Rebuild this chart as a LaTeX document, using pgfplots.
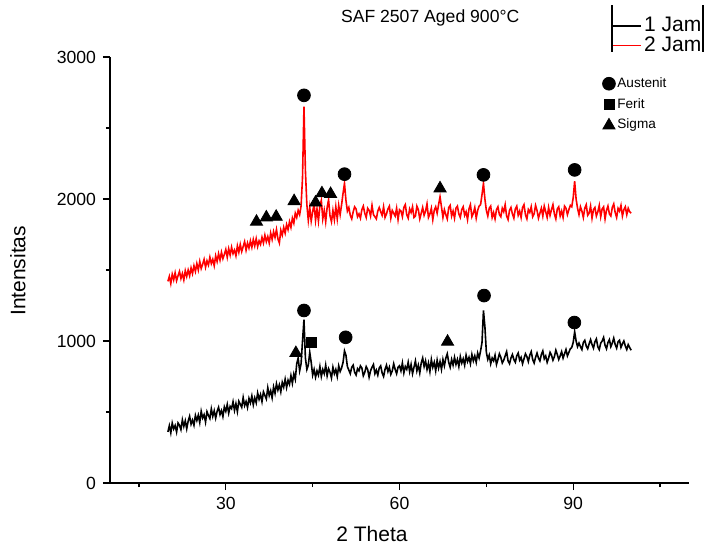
\documentclass[border=0pt]{standalone}
\usepackage{fontspec}
\setmainfont{Liberation Sans}
\usepackage{pgfplots}
\usepackage{pgfplotstable}
\pgfplotsset{compat=1.18}
\pgfplotstableread{
x b r
20.00 360 1420
20.25 404 1455
20.50 353 1405
20.75 422 1470
21.00 381 1430
21.25 405 1480
21.50 359 1425
21.75 423 1460
22.00 407 1490
22.25 376 1440
22.50 445 1475
22.75 399 1430
23.00 438 1495
23.25 382 1455
23.50 436 1500
23.75 470 1460
24.00 414 1515
24.25 443 1475
24.50 407 1530
24.75 476 1490
25.00 440 1545
25.25 478 1500
25.50 426 1560
25.75 505 1510
26.00 458 1540
26.25 481 1575
26.50 429 1520
26.75 502 1565
27.00 476 1535
27.25 454 1590
27.50 522 1545
27.75 470 1575
28.00 509 1530
28.25 457 1600
28.50 505 1560
28.75 533 1615
29.00 482 1570
29.25 510 1625
29.50 468 1580
29.75 536 1610
30.00 505 1645
30.25 553 1590
30.50 492 1650
30.75 540 1605
31.00 524 1660
31.25 572 1615
31.50 511 1640
31.75 559 1600
32.00 503 1670
32.25 576 1625
32.50 555 1680
32.75 533 1630
33.00 602 1665
33.25 545 1700
33.50 574 1640
33.75 532 1690
34.00 596 1655
34.25 564 1705
34.50 613 1660
34.75 551 1715
35.00 600 1670
35.25 565 1720
35.50 634 1665
35.75 589 1705
36.00 623 1680
36.25 573 1730
36.50 642 1690
36.75 617 1745
37.00 592 1700
37.25 671 1735
37.50 616 1690
37.75 650 1760
38.00 600 1715
38.25 676 1770
38.50 632 1730
38.75 699 1785
39.00 655 1720
39.25 691 1690
39.50 642 1780
39.75 709 1745
40.00 675 1800
40.25 731 1760
40.50 672 1820
40.75 724 1785
41.00 695 1840
41.25 756 1800
41.50 702 1865
41.75 768 1830
42.00 730 1900
42.25 840 1870
42.50 880 1920
42.75 790 1890
43.00 840 1950
43.25 1000 2150
43.50 1150 2650
43.75 880 2200
44.00 800 1960
44.25 830 1850
44.50 920 1940
44.75 850 1845
45.00 760 1910
45.25 800 1965
45.50 745 1850
45.75 790 1930
46.00 760 1845
46.25 820 1950
46.50 750 1990
46.75 800 1860
47.00 770 1920
47.25 830 1840
47.50 755 1940
47.75 805 1995
48.00 780 1880
48.25 740 1840
48.50 815 1920
48.75 770 1855
49.00 800 1945
49.25 750 1860
49.50 825 1955
49.75 785 1890
50.00 810 1960
50.25 850 2040
50.50 930 2110
50.75 900 1990
51.00 820 1915
51.25 795 1940
51.50 770 1885
51.75 815 1860
52.00 830 1910
52.25 780 1945
52.50 760 1930
52.75 805 1875
53.00 790 1895
53.25 825 1865
53.50 810 1925
53.75 755 1950
54.00 780 1900
54.25 820 1870
54.50 800 1935
54.75 745 1920
55.00 790 1880
55.25 815 1955
55.50 835 1890
55.75 770 1875
56.00 795 1860
56.25 760 1915
56.50 810 1940
56.75 825 1910
57.00 775 1885
57.25 750 1945
57.50 800 1870
57.75 830 1895
58.00 785 1930
58.25 815 1950
58.50 765 1865
58.75 790 1920
59.00 840 1900
59.25 800 1880
59.50 770 1935
59.75 815 1855
60.00 825 1925
60.25 790 1915
60.50 845 1875
60.75 775 1940
61.00 820 1960
61.25 800 1890
61.50 850 1865
61.75 785 1930
62.00 835 1905
62.25 770 1945
62.50 815 1870
62.75 860 1880
63.00 790 1950
63.25 830 1925
63.50 775 1860
63.75 845 1900
64.00 880 1940
64.25 820 1885
64.50 860 1915
64.75 800 1965
65.00 845 1870
65.25 785 1895
65.50 870 1935
65.75 815 1855
66.00 850 1920
66.25 790 1945
66.50 865 1900
66.75 810 1960
67.00 855 2015
67.25 800 1945
67.50 870 1870
67.75 825 1925
68.00 880 1890
68.25 910 1860
68.50 850 1940
68.75 815 1955
69.00 870 1880
69.25 830 1915
69.50 885 1865
69.75 835 1935
70.00 870 1950
70.25 820 1895
70.50 890 1870
70.75 845 1925
71.00 875 1945
71.25 830 1885
71.50 900 1910
71.75 855 1855
72.00 885 1930
72.25 840 1960
72.50 905 1875
72.75 860 1900
73.00 895 1940
73.25 850 1865
73.50 915 1920
73.75 880 1950
74.00 930 1960
74.25 990 2030
74.50 1215 2110
74.75 1100 2000
75.00 920 1920
75.25 870 1880
75.50 900 1935
75.75 840 1950
76.00 880 1870
76.25 860 1905
76.50 900 1860
76.75 835 1925
77.00 870 1945
77.25 910 1890
77.50 885 1875
77.75 845 1935
78.00 865 1910
78.25 895 1960
78.50 925 1880
78.75 860 1855
79.00 840 1920
79.25 880 1940
79.50 905 1895
79.75 870 1865
80.00 850 1930
80.25 895 1950
80.50 915 1885
80.75 865 1915
81.00 885 1870
81.25 840 1940
81.50 875 1960
81.75 910 1890
82.00 890 1860
82.25 855 1925
82.50 900 1905
82.75 925 1945
83.00 870 1875
83.25 845 1895
83.50 885 1955
83.75 915 1920
84.00 880 1865
84.25 860 1900
84.50 905 1935
84.75 930 1880
85.00 875 1950
85.25 895 1910
85.50 850 1870
85.75 880 1940
86.00 920 1885
86.25 900 1925
86.50 865 1960
86.75 890 1895
87.00 935 1860
87.25 905 1930
87.50 870 1945
87.75 895 1880
88.00 925 1915
88.25 880 1870
88.50 910 1950
88.75 940 1935
89.00 895 1890
89.25 920 1925
89.50 945 1955
89.75 955 1945
90.00 990 2010
90.25 1065 2125
90.50 1000 2000
90.75 960 1935
91.00 985 1890
91.25 960 1945
91.50 940 1915
91.75 990 1870
92.00 1005 1935
92.25 965 1960
92.50 945 1885
92.75 980 1900
93.00 1010 1950
93.25 975 1865
93.50 950 1925
93.75 995 1940
94.00 1015 1880
94.25 960 1910
94.50 940 1955
94.75 985 1875
95.00 1000 1930
95.25 1025 1945
95.50 970 1860
95.75 945 1920
96.00 990 1950
96.25 1010 1895
96.50 960 1880
96.75 985 1940
97.00 1020 1965
97.25 975 1905
97.50 950 1870
97.75 995 1935
98.00 1005 1915
98.25 955 1955
98.50 980 1880
98.75 1000 1925
99.00 965 1945
99.25 940 1890
99.50 975 1935
99.75 955 1910
100.00 935 1900
}\xrd
\begin{document}
\begin{tikzpicture}
\useasboundingbox (-55pt,-31.5pt) rectangle (297pt,241.5pt);
\begin{axis}[
  at={(0,0)}, anchor=south west,
  scale only axis, width=289.5pt, height=213pt,
  xmin=10, xmax=110, ymin=0, ymax=3000,
  axis lines=left, axis line style={-, line width=0.6pt},
  xtick={30,60,90}, minor xtick={15,45,75,105},
  ytick={0,1000,2000,3000}, minor ytick={500,1500,2500},
  tick align=outside, major tick length=3.5pt, minor tick length=2pt,
  tick style={black, line width=0.6pt},
  ticklabel style={font=\fontsize{8.8}{10}\selectfont},
  /pgf/number format/assume math mode=true,
  /pgf/number format/set thousands separator={},
  scaled y ticks=false,
  xlabel={2 Theta}, ylabel={Intensitas},
  label style={font=\fontsize{10.5}{12}\selectfont},
  xlabel style={at={(axis description cs:0.4525,-0.12)}, anchor=center},
  ylabel style={at={(axis description cs:-0.159,0.498)}, anchor=center},
  every axis title shift=0pt,
  title={SAF 2507 Aged 900°C},
  title style={at={(axis description cs:0.553,1.0915)}, anchor=center, font=\fontsize{8.8}{10}\selectfont},
  legend style={at={(axis description cs:0.867,1.099)}, anchor=north west, draw=none, fill=none, font=\fontsize{10.5}{12}\selectfont, inner sep=0pt, row sep=-1pt, nodes={inner sep=1pt}},
  legend cell align=left,
  legend image code/.code={\draw[#1, line width=0.9pt] (0pt,0pt) -- (14pt,0pt);},
  clip=false,
]
\addplot[black, line width=0.8pt] table[x=x, y=b] {\xrd};
\addlegendentry{1 Jam}
\addplot[red, line width=0.8pt] table[x=x, y=r] {\xrd};
\addlegendentry{2 Jam}
\draw[line width=0.6pt] (axis description cs:0.867,1.122) -- (axis description cs:0.867,1.012);
\draw[line width=0.6pt] (axis description cs:1.0242,1.122) -- (axis description cs:1.0242,1.012);
\end{axis}
\begin{axis}[
  at={(0,0)}, anchor=south west,
  scale only axis, width=289.5pt, height=213pt,
  xmin=10, xmax=110, ymin=0, ymax=3000,
  hide axis, clip=false,
  legend style={at={(axis description cs:0.85,0.958)}, anchor=north west, draw=none, fill=none, font=\fontsize{6.8}{8}\selectfont, inner sep=0pt, row sep=2pt, nodes={inner sep=1pt}},
  legend cell align=left,
  legend image code/.code={\draw[#1] plot coordinates {(4pt,0pt)};},
]
\addplot[only marks, mark=*, mark size=3.2pt, black] coordinates {(43.5,2730) (50.5,2175) (74.5,2170) (90.25,2205) (43.5,1215) (50.7,1026) (74.6,1320) (90.2,1130)};
\addlegendentry{Austenit}
\addplot[only marks, mark=square*, mark size=2.5pt, black] coordinates {(44.7,990)};
\addlegendentry{Ferit}
\addplot[only marks, mark=triangle*, mark size=3.5pt, black] coordinates {(35.3,1840) (37.0,1870) (38.7,1875) (41.8,1985) (45.5,1975) (46.6,2040) (48.1,2035) (67.0,2075) (42.1,915) (68.3,995)};
\addlegendentry{Sigma}
\end{axis}
\end{tikzpicture}
\end{document}
